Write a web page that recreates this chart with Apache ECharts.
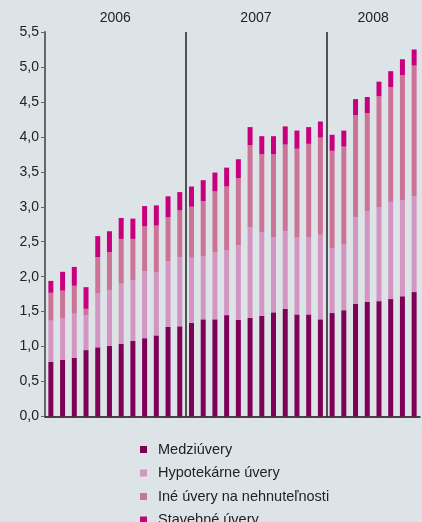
<!DOCTYPE html>
<html>
<head>
<meta charset="utf-8">
<script src="https://cdn.jsdelivr.net/npm/echarts@6/dist/echarts.min.js"></script>
<style>
  html, body { margin: 0; padding: 0; background: #dde4e7; }
  #chart { width: 422px; height: 522px; }
</style>
</head>
<body>
<div id="chart"></div>
<script>
// months 2006-01 .. 2008-08
var years = ['2006', '2007', '2008'];
var yearMonths = [12, 12, 8];
var yTicks = [0, 0.5, 1, 1.5, 2, 2.5, 3, 3.5, 4, 4.5, 5, 5.5];

var medziuvery = [0.78, 0.81, 0.84, 0.95, 0.99, 1.01, 1.04, 1.08, 1.12, 1.16, 1.28, 1.29,
                  1.34, 1.39, 1.39, 1.45, 1.38, 1.41, 1.44, 1.49, 1.54, 1.46, 1.46, 1.39,
                  1.48, 1.52, 1.61, 1.64, 1.65, 1.68, 1.72, 1.78];
var hypotekarne = [0.59, 0.59, 0.63, 0.50, 0.77, 0.80, 0.86, 0.87, 0.96, 0.90, 0.94, 0.99,
                   0.93, 0.90, 0.96, 0.93, 1.07, 1.30, 1.20, 1.07, 1.11, 1.10, 1.10, 1.21,
                   0.93, 0.94, 1.24, 1.30, 1.34, 1.39, 1.37, 1.37];
var ineUvery = [0.40, 0.40, 0.40, 0.09, 0.52, 0.54, 0.64, 0.59, 0.64, 0.67, 0.63, 0.67,
                0.73, 0.79, 0.87, 0.91, 0.96, 1.17, 1.11, 1.19, 1.24, 1.27, 1.34, 1.39,
                1.39, 1.40, 1.46, 1.40, 1.59, 1.64, 1.79, 1.87];
var stavebne = [0.17, 0.27, 0.27, 0.31, 0.30, 0.30, 0.30, 0.29, 0.29, 0.29, 0.30, 0.26,
                0.29, 0.30, 0.27, 0.27, 0.27, 0.26, 0.26, 0.26, 0.26, 0.26, 0.24, 0.23,
                0.23, 0.23, 0.23, 0.23, 0.21, 0.23, 0.23, 0.23];

var months = medziuvery.map(function (v, i) { return i; });

// year label centres and boundaries on a 0..N value axis
var yearCenters = [], yearBounds = [], acc = 0;
yearMonths.forEach(function (n, i) {
    yearCenters.push(acc + n / 2);
    acc += n;
    if (i < yearMonths.length - 1) yearBounds.push(acc);
});
var total = acc;

var font = 'Liberation Sans, Arial, sans-serif';
var myChart = echarts.init(document.getElementById('chart'));

function barSeries(name, data, color) {
    return {
        name: name,
        type: 'bar',
        stack: 'total',
        data: data,
        barWidth: 5,
        itemStyle: { color: color },
        emphasis: { disabled: true }
    };
}

myChart.setOption({
    backgroundColor: '#dde4e7',
    animation: false,
    textStyle: { fontFamily: font },
    grid: { left: 45, right: 2, top: 32, bottom: 105.5 },
    legend: {
        orient: 'vertical',
        left: 140,
        top: 442,
        height: 120,
        padding: 0,
        itemWidth: 7,
        itemHeight: 7,
        itemGap: 8.5,
        icon: 'rect',
        textStyle: { fontFamily: font, fontSize: 14.5, color: '#222', lineHeight: 14, padding: [0, 0, 0, 6] },
        data: ['Medziúvery', 'Hypotekárne úvery', 'Iné úvery na nehnuteľnosti', 'Stavebné úvery']
    },
    xAxis: [
        {
            type: 'category',
            data: months,
            axisLine: { lineStyle: { color: '#111', width: 1.5 } },
            axisTick: { show: false },
            axisLabel: { show: false }
        },
        {
            type: 'value',
            position: 'top',
            min: 0,
            max: total,
            axisLine: { show: false },
            axisTick: { show: false },
            splitLine: { show: false },
            axisLabel: {
                customValues: yearCenters,
                fontFamily: font,
                fontSize: 14,
                color: '#222',
                margin: 7,
                formatter: function (v) {
                    var idx = yearCenters.indexOf(v);
                    return idx >= 0 ? years[idx] : '';
                }
            }
        }
    ],
    yAxis: {
        type: 'value',
        min: 0,
        max: 5.5,
        interval: 0.5,
        axisLine: { show: true, lineStyle: { color: '#666', width: 2 } },
        axisTick: { show: true, length: 4, lineStyle: { color: '#666' } },
        splitLine: { show: false },
        axisLabel: {
            fontFamily: font,
            fontSize: 14,
            color: '#222',
            margin: 6,
            formatter: function (v) { return v.toFixed(1).replace('.', ','); }
        }
    },
    series: [
        barSeries('Medziúvery', medziuvery, '#7e0057'),
        barSeries('Hypotekárne úvery', hypotekarne, '#d396c2'),
        barSeries('Iné úvery na nehnuteľnosti', ineUvery, '#cc7497'),
        barSeries('Stavebné úvery', stavebne, '#c9007e'),
        {
            type: 'scatter',
            xAxisIndex: 1,
            data: [],
            markLine: {
                silent: true,
                symbol: 'none',
                label: { show: false },
                lineStyle: { color: '#222', width: 1.5, type: 'solid' },
                data: yearBounds.map(function (b) { return { xAxis: b }; })
            }
        }
    ]
});
</script>
</body>
</html>
